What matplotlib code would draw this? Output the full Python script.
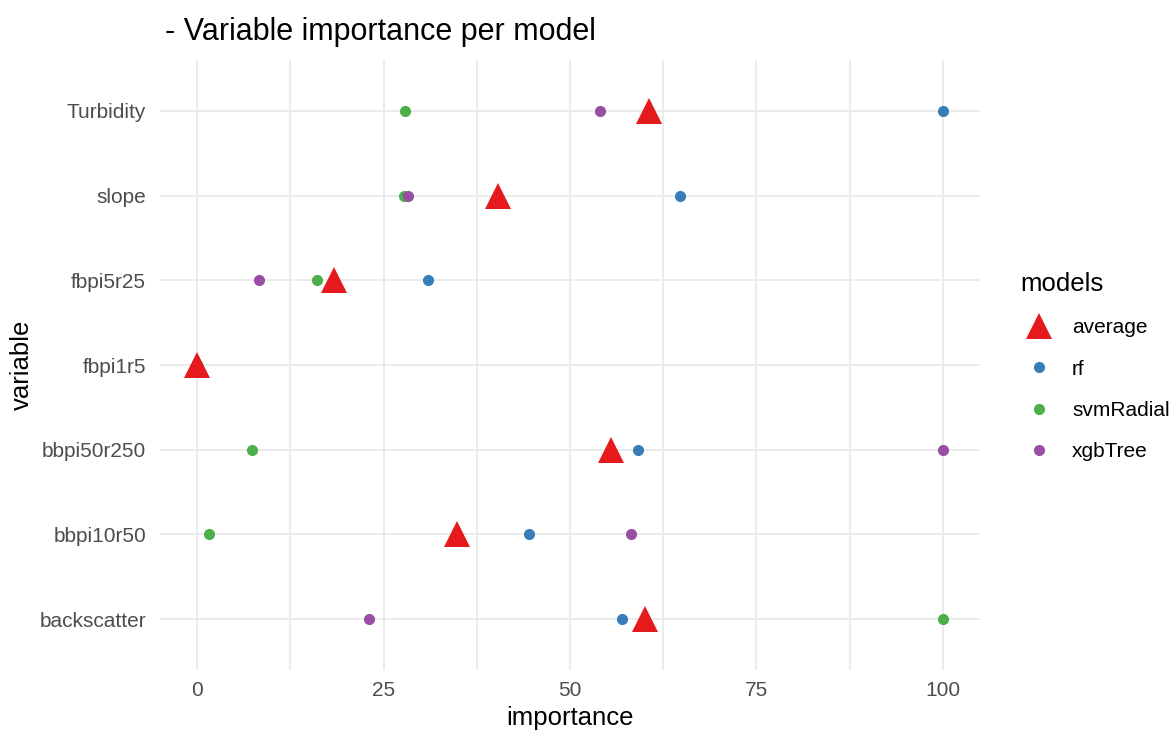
import numpy as np
import matplotlib.pyplot as plt
from matplotlib.lines import Line2D

plt.rcParams['font.family'] = ['Liberation Sans', 'DejaVu Sans']

variables = ['backscatter', 'bbpi10r50', 'bbpi50r250', 'fbpi1r5', 'fbpi5r25', 'slope', 'Turbidity']
rf = [57.0, 44.5, 59.1, 0.0, 31.0, 64.8, 100.0]
svmRadial = [100.0, 1.6, 7.4, 0.0, 16.0, 27.7, 27.8]
xgbTree = [23.0, 58.2, 100.0, 0.0, 8.3, 28.3, 54.0]
average = [60.0, 34.8, 55.5, 0.0, 18.4, 40.3, 60.6]

models = ['average', 'rf', 'svmRadial', 'xgbTree']
colors = {'average': '#E41A1C', 'rf': '#377EB8', 'svmRadial': '#4DAF4A', 'xgbTree': '#984EA3'}

fig = plt.figure(figsize=(11.74, 7.34), dpi=100)
ax = fig.add_axes([160 / 1174, 1 - 670 / 734, 820 / 1174, 610 / 734])

y = np.arange(len(variables))
for name, vals in [('rf', rf), ('svmRadial', svmRadial), ('xgbTree', xgbTree)]:
    ax.plot(vals, y, 'o', color=colors[name], markersize=7, zorder=3)
ax.plot(average, y, '^', color=colors['average'], markersize=19, markeredgewidth=0, zorder=4)

ax.set_xlim(-5, 105)
ax.set_ylim(-0.6, len(variables) - 0.4)
ax.set_yticks(y)
ax.set_yticklabels(variables)
ax.set_xticks([0, 25, 50, 75, 100])
ax.set_xticks([12.5, 37.5, 62.5, 87.5], minor=True)
ax.grid(True, which='major', color='#ebebeb', linewidth=1.4)
ax.grid(True, which='minor', axis='x', color='#ebebeb', linewidth=1.4)
ax.set_axisbelow(True)
for s in ax.spines.values():
    s.set_visible(False)
ax.tick_params(which='both', length=0, labelsize=15, labelcolor='#4d4d4d')
ax.tick_params(axis='y', pad=10)
ax.tick_params(axis='x', pad=8)

ax.set_xlabel('importance', fontsize=18.5)
ax.set_ylabel('variable', fontsize=18.5)
ax.xaxis.set_label_coords(0.5, -(718 - 670) / 610, transform=ax.transAxes)
ax.xaxis.label.set_va('center')
ax.yaxis.set_label_coords(-(160 - 22) / 820, 0.5, transform=ax.transAxes)
ax.yaxis.label.set_va('center')
fig.text(165 / 1174, 1 - 32 / 734, '- Variable importance per model', fontsize=22, va='center', ha='left')

handles = [Line2D([], [], marker='^', linestyle='none', color=colors['average'], markersize=19, markeredgewidth=0)]
for name in ['rf', 'svmRadial', 'xgbTree']:
    handles.append(Line2D([], [], marker='o', linestyle='none', color=colors[name], markersize=7))
leg = fig.legend(handles, models, title='models', loc='upper left',
                 bbox_to_anchor=(1020 / 1174, 1 - 272 / 734), frameon=False,
                 fontsize=15, title_fontsize=18.5, labelspacing=1.07, handletextpad=0.7,
                 handlelength=1.8, alignment='left', borderpad=0, borderaxespad=0)

fig.savefig('out.png', dpi=100)
